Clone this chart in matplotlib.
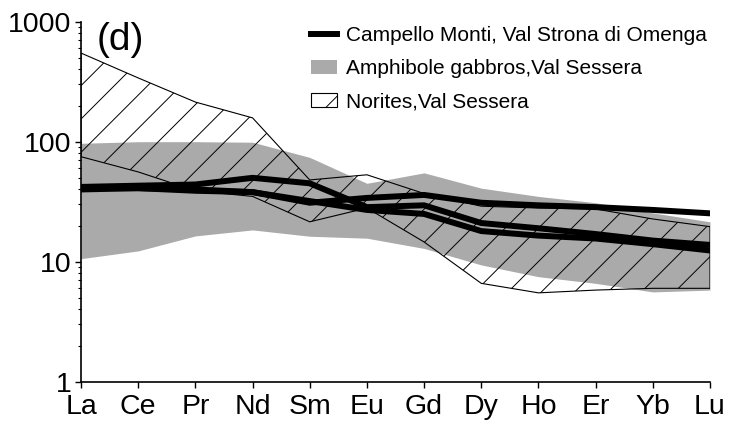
import numpy as np
import matplotlib.pyplot as plt
from matplotlib.lines import Line2D
from matplotlib.patches import Patch

plt.rcParams['font.family'] = ['Liberation Sans', 'DejaVu Sans']
plt.rcParams['hatch.linewidth'] = 0.7

ree = ["La", "Ce", "Pr", "Nd", "Sm", "Eu", "Gd", "Dy", "Ho", "Er", "Yb", "Lu"]

# amphibole gabbros, Val Sessera (envelope)
gabbro_hi = [97, 100, 100, 99, 74, 45, 55, 41, 35, 31, 25.5, 21.5]
gabbro_lo = [10.6, 12.3, 16.4, 18.4, 16.3, 15.7, 12.9, 9.4, 7.5, 6.6, 5.6, 5.8]

# norites, Val Sessera (envelope)
norite_hi = [548, 340, 214, 158, 48, 53, 37, 29, 28, 27.5, 22.7, 19.6]
norite_lo = [75, 56, 39, 35, 21.5, 28, 14.6, 6.6, 5.5, 5.8, 6.0, 6.0]

# Campello Monti samples
cm1 = [41, 41, 40, 38, 31, 34, 36, 31, 29.5, 28.5, 27, 25.3]
cm2 = [42, 43, 44, 50, 45, 28.5, 29.5, 21, 19, 17, 15, 13.8]
cm3 = [40, 41, 39, 38, 32, 27, 25, 18, 16.5, 15.6, 14, 12.4]

x = np.arange(len(ree))

fig = plt.figure(figsize=(7.41, 4.26), dpi=100)
ax = fig.add_axes([81/741, 1 - 381.7/426, (710 - 81)/741, (381.7 - 21.7)/426])

ax.fill_between(x, gabbro_lo, gabbro_hi, color='#aaaaaa', linewidth=0, zorder=1)
ax.fill_between(x, norite_lo, norite_hi, facecolor='none', edgecolor='k',
                hatch='/', linewidth=0.8, zorder=2)
for s in (cm1, cm2, cm3):
    ax.plot(x, s, color='k', linewidth=4.3, solid_capstyle='round',
            solid_joinstyle='round', zorder=3)

ax.set_yscale('log')
ax.set_ylim(1, 1000)
ax.set_xlim(0, 11)
ax.set_yticks([1, 10, 100, 1000])
ax.set_yticklabels(["1", "10", "100", "1000"])
ax.set_xticks(x)
ax.set_xticklabels(ree)
ax.tick_params(axis='both', which='major', labelsize=20.5, direction='out',
               length=4, width=1)
ax.tick_params(axis='y', which='major', pad=3)
ax.tick_params(axis='x', which='major', pad=5)
ax.tick_params(axis='y', which='minor', direction='out', length=2.5, width=0.8)
for side in ('top', 'right'):
    ax.spines[side].set_visible(False)
ax.spines['left'].set_linewidth(1.2)
ax.spines['bottom'].set_linewidth(1.2)

ax.text(0.28, 1000, "(d)", fontsize=28, va='top', ha='left')

handles = [
    Line2D([], [], color='k', linewidth=4.3),
    Patch(facecolor='#aaaaaa', edgecolor='none'),
    Patch(facecolor='none', edgecolor='k', hatch='/', linewidth=0.8),
]
labels = ["Campello Monti, Val Strona di Omenga",
          "Amphibole gabbros,Val Sessera",
          "Norites,Val Sessera"]
fig.legend(handles, labels, loc='upper left', bbox_to_anchor=(311/741, 1 - 26/426),
           frameon=False, fontsize=15, handlelength=1.25, handleheight=0.7,
           handletextpad=0.45, labelspacing=0.68, borderaxespad=0, borderpad=0)

fig.savefig("out.png", dpi=100)
